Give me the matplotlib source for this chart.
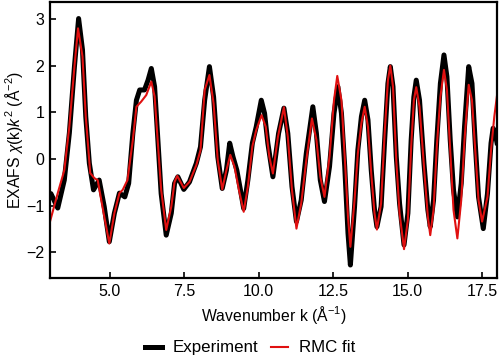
#!/usr/bin/env python3
"""EXAFS chi(k)k^2: experiment vs RMC fit."""

import matplotlib
matplotlib.use("Agg")
import matplotlib.pyplot as plt

# values
k_exp = [3.00, 3.03, 3.26, 3.48, 3.65, 3.82, 3.96, 4.09, 4.20, 4.32, 4.46, 4.65,
         4.82, 4.99, 5.16, 5.33, 5.51, 5.64, 5.78, 5.90, 6.01, 6.17, 6.29, 6.40,
         6.51, 6.62, 6.73, 6.90, 7.07, 7.18, 7.29, 7.49, 7.68, 7.91, 8.05, 8.19,
         8.35, 8.49, 8.63, 8.78, 8.92, 9.03, 9.14, 9.27, 9.39, 9.50, 9.64, 9.79,
         9.92, 10.09, 10.20, 10.31, 10.48, 10.67, 10.85, 10.98, 11.12, 11.27,
         11.43, 11.60, 11.82, 11.94, 12.07, 12.21, 12.38, 12.53, 12.66, 12.78,
         12.89, 13.00, 13.08, 13.22, 13.33, 13.45, 13.56, 13.67, 13.78, 13.89,
         13.97, 14.11, 14.23, 14.34, 14.42, 14.51, 14.62, 14.73, 14.88, 15.01,
         15.12, 15.21, 15.29, 15.40, 15.55, 15.68, 15.76, 15.87, 15.98, 16.10,
         16.22, 16.32, 16.43, 16.54, 16.67, 16.80, 16.91, 17.05, 17.16, 17.27,
         17.38, 17.54, 17.68, 17.80, 17.87, 17.94, 18.00]
chi_exp = [-0.80, -0.74, -1.05, -0.45, 0.56, 1.98, 3.01, 2.34, 0.91, -0.09, -0.66, -0.45,
           -1.02, -1.77, -1.16, -0.73, -0.81, -0.52, 0.55, 1.26, 1.48, 1.48, 1.69, 1.94,
           1.55, 0.41, -0.74, -1.63, -1.16, -0.52, -0.38, -0.65, -0.49, -0.09, 0.26, 1.26,
           1.98, 1.33, 0.05, -0.63, -0.24, 0.34, 0.05, -0.24, -0.66, -1.06, -0.45, 0.34,
           0.69, 1.26, 0.98, 0.34, -0.38, 0.55, 1.09, 0.55, -0.59, -1.34,
           -0.88, 0.12, 1.12, 0.55, -0.45, -0.91, -0.16, 0.98, 1.55, 0.98,
           -0.16, -1.59, -2.27, -1.02, 0.19, 0.91, 1.26, 0.84, -0.24, -1.09,
           -1.45, -1.02, 0.41, 1.62, 1.98, 1.55, 0.05, -0.95, -1.84, -1.16,
           0.41, 1.33, 1.69, 1.26, -0.10, -1.09, -1.45, -0.88, 0.41, 1.62,
           2.23, 1.76, 0.41, -0.66, -1.24, -0.52, 0.69, 1.98, 1.62, 0.34,
           -0.81, -1.49, -0.74, 0.34, 0.66, 0.55, 0.35]

k_fit = [3.00, 3.26, 3.48, 3.65, 3.82, 3.94, 4.09, 4.20, 4.35, 4.49, 4.60, 4.76,
         4.99, 5.16, 5.33, 5.44, 5.60, 5.78, 5.90, 6.06, 6.23, 6.40, 6.51, 6.62,
         6.73, 6.90, 7.07, 7.18, 7.27, 7.49, 7.68, 7.91, 8.05, 8.19, 8.35, 8.49,
         8.63, 8.78, 8.92, 9.05, 9.19, 9.34, 9.50, 9.64, 9.79, 9.92, 10.10, 10.24,
         10.36, 10.48, 10.65, 10.85, 10.98, 11.12, 11.27, 11.43, 11.60, 11.79,
         11.94, 12.07, 12.21, 12.38, 12.53, 12.64, 12.78, 12.89, 13.00, 13.08,
         13.22, 13.33, 13.45, 13.56, 13.67, 13.78, 13.89, 13.97, 14.11, 14.23,
         14.34, 14.42, 14.51, 14.62, 14.73, 14.88, 15.01, 15.12, 15.21, 15.29,
         15.40, 15.55, 15.68, 15.76, 15.87, 15.98, 16.10, 16.22, 16.32, 16.43,
         16.54, 16.67, 16.80, 16.91, 17.05, 17.16, 17.27, 17.38, 17.50, 17.68,
         17.80, 17.91, 18.00]
chi_fit = [-1.34, -0.73, -0.24, 0.70, 1.98, 2.80, 2.20, 0.91, -0.30, -0.41, -0.45, -1.02,
           -1.81, -1.16, -0.73, -0.66, -0.45, 0.41, 1.12, 1.23, 1.37, 1.66, 1.34, 0.34,
           -0.66, -1.52, -1.02, -0.49, -0.36, -0.62, -0.49, -0.13, 0.19, 1.48, 1.80, 1.19,
           -0.03, -0.65, -0.24, 0.09, -0.16, -0.66, -1.13, -0.59, 0.27, 0.62, 0.94, 0.69,
           0.05, -0.31, 0.48, 1.11, 0.48, -0.66, -1.49, -0.95, -0.03, 0.87,
           0.41, -0.38, -0.81, 0.05, 1.26, 1.78, 1.26, 0.05, -1.24, -1.88,
           -0.88, 0.12, 0.77, 1.12, 0.69, -0.31, -1.16, -1.51, -0.95, 0.55,
           1.69, 2.00, 1.55, -0.03, -1.16, -1.93, -1.30, 0.27, 1.26, 1.54,
           1.12, -0.16, -1.24, -1.63, -1.09, 0.27, 1.33, 1.91, 1.48, 0.19,
           -1.09, -1.70, -0.88, 0.41, 1.59, 1.26, 0.19, -0.88, -1.34, -0.81,
           0.19, 0.91, 1.36]

plt.rcParams["font.family"] = ["Liberation Sans", "DejaVu Sans"]
plt.rcParams["mathtext.fontset"] = "custom"
plt.rcParams["mathtext.rm"] = "Liberation Sans"
plt.rcParams["mathtext.it"] = "Liberation Sans:italic"

fig = plt.figure(figsize=(5.0, 3.64), dpi=100)
ax = fig.add_axes([0.100, 0.236, 0.894, 0.758])

ax.plot(k_exp, chi_exp, color="black", linewidth=3.6, solid_joinstyle="round",
        label="Experiment")
ax.plot(k_fit, chi_fit, color="#e01010", linewidth=1.5, solid_joinstyle="round",
        label="RMC fit")

ax.set_xlim(3, 18)
ax.set_ylim(-2.55, 3.36)
ax.set_xticks([5.0, 7.5, 10.0, 12.5, 15.0, 17.5])
ax.set_xticklabels(["5.0", "7.5", "10.0", "12.5", "15.0", "17.5"])
ax.set_yticks([-2, -1, 0, 1, 2, 3])
ax.set_yticklabels(["\u22122", "\u22121", "0", "1", "2", "3"])
ax.tick_params(direction="in", length=4, width=1.2, labelsize=11.5, pad=4)
for spine in ax.spines.values():
    spine.set_linewidth(1.6)

ax.set_xlabel("Wavenumber k (Å$^{\u22121}$)", fontsize=11.3, labelpad=4)
ax.set_ylabel("EXAFS $\\chi$(k)$k^2$ (Å$^{\u22122}$)", fontsize=11.3, labelpad=1)

fig.legend(loc="center", bbox_to_anchor=(0.5, 0.044), ncol=2, frameon=False,
           fontsize=12.2, handlelength=1.0, handletextpad=0.6, columnspacing=0.8)

fig.savefig("out.png", dpi=100)
